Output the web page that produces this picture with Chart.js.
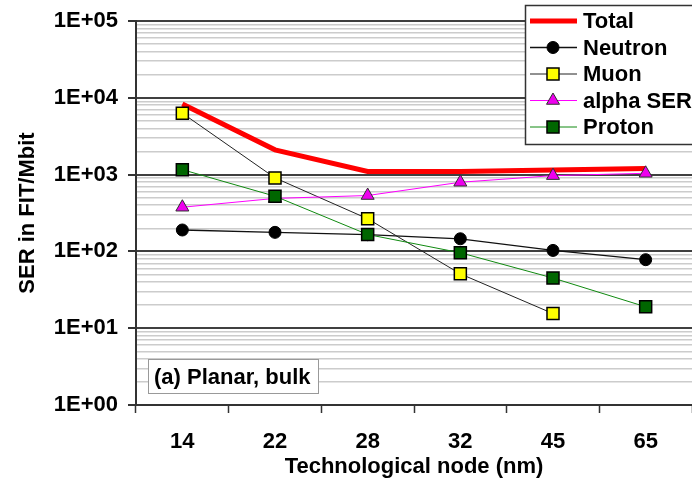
<!DOCTYPE html>
<html>
<head>
<meta charset="utf-8">
<script src="https://cdn.jsdelivr.net/npm/chart.js@4/dist/chart.umd.min.js"></script>
<style>
  html, body { margin: 0; padding: 0; background: #fff; overflow: hidden; }
</style>
</head>
<body>
<canvas id="ser" width="692" height="480"></canvas>
<script>
const nodes = ["14", "22", "28", "32", "45", "65"];
const total = [8300, 2100, 1100, 1100, 1150, 1200];
const neutron = [190, 177, 165, 146, 103, 78];
const muon = [6300, 906, 266, 51, 15.5, null];
const alpha = [376, 490, 534, 795, 970, 1040];
const proton = [1160, 523, 166, 96, 45, 19];

const yDecades = [1, 10, 100, 1000, 10000, 100000];
const yLabels = ["1E+00", "1E+01", "1E+02", "1E+03", "1E+04", "1E+05"];

// minor grid lines 2..9 in each decade
const yGrid = [];
yDecades.forEach((d, i) => {
  yGrid.push(d);
  if (i < yDecades.length - 1) {
    for (let k = 2; k <= 9; k++) yGrid.push(d * k);
  }
});

const isMajor = v => yDecades.includes(v);

Chart.defaults.font.family = "'Liberation Sans', Arial, sans-serif";
Chart.defaults.font.size = 22;
Chart.defaults.font.weight = "bold";
Chart.defaults.color = "#000";

const FONT = "bold 22px 'Liberation Sans', Arial, sans-serif";

const boxesPlugin = {
  id: "boxes",
  afterDraw(chart) {
    const ctx = chart.ctx;
    ctx.save();

    // note box
    ctx.fillStyle = "#fff";
    ctx.fillRect(148, 359, 171, 35);
    ctx.strokeStyle = "#999";
    ctx.lineWidth = 1;
    ctx.strokeRect(148.5, 359.5, 170, 34);
    ctx.fillStyle = "#000";
    ctx.font = FONT;
    ctx.textBaseline = "middle";
    ctx.textAlign = "left";
    ctx.fillText("(a) Planar, bulk", 154, 378);

    // legend box
    ctx.fillStyle = "#fff";
    ctx.fillRect(525, 5, 180, 140);
    ctx.strokeStyle = "#333";
    ctx.lineWidth = 1.5;
    ctx.strokeRect(525.5, 5.5, 180, 139);

    chart.data.datasets.forEach((ds, i) => {
      const y = 21 + i * 26.5;
      ctx.strokeStyle = ds.borderColor;
      ctx.lineWidth = ds.borderWidth;
      ctx.beginPath();
      ctx.moveTo(530, y);
      ctx.lineTo(577, y);
      ctx.stroke();
      if (ds.pointRadius > 0) {
        ctx.fillStyle = ds.pointBackgroundColor;
        ctx.strokeStyle = ds.pointBorderColor;
        ctx.lineWidth = ds.pointBorderWidth;
        Chart.helpers.drawPoint(ctx, { pointStyle: ds.pointStyle, radius: ds.pointRadius, borderWidth: ds.pointBorderWidth }, 553, y);
      }
      ctx.fillStyle = "#000";
      ctx.font = FONT;
      ctx.textBaseline = "middle";
      ctx.fillText(ds.label, 583, y + 1);
    });
    ctx.restore();
  }
};

new Chart(document.getElementById("ser"), {
  type: "line",
  data: {
    labels: nodes,
    datasets: [
      {
        label: "Total", data: total, order: 5,
        borderColor: "#ff0000", borderWidth: 5, pointRadius: 0,
        pointBackgroundColor: "#ff0000", pointBorderColor: "#ff0000", pointBorderWidth: 0
      },
      {
        label: "Neutron", data: neutron, order: 4,
        borderColor: "#111", borderWidth: 1.3, pointStyle: "circle", pointRadius: 6,
        pointBackgroundColor: "#000", pointBorderColor: "#000", pointBorderWidth: 1
      },
      {
        label: "Muon", data: muon, order: 3,
        borderColor: "#222", borderWidth: 1, pointStyle: "rect", pointRadius: 8.5,
        pointBackgroundColor: "#ffff00", pointBorderColor: "#000", pointBorderWidth: 1.5
      },
      {
        label: "alpha SER", data: alpha, order: 2,
        borderColor: "#ff00ff", borderWidth: 1, pointStyle: "triangle", pointRadius: 7.5,
        pointBackgroundColor: "#ee00ee", pointBorderColor: "#303030", pointBorderWidth: 1
      },
      {
        label: "Proton", data: proton, order: 1,
        borderColor: "#108a10", borderWidth: 1, pointStyle: "rect", pointRadius: 8.5,
        pointBackgroundColor: "#006600", pointBorderColor: "#000", pointBorderWidth: 1.5
      }
    ]
  },
  options: {
    responsive: false,
    animation: false,
    layout: { autoPadding: false, padding: { top: 21, left: 10, right: 0, bottom: 0 } },
    plugins: {
      legend: { display: false },
      tooltip: { enabled: false }
    },
    scales: {
      x: {
        offset: true,
        grid: {
          offset: true, drawOnChartArea: false, drawTicks: true,
          tickLength: 8, tickColor: "#333", tickWidth: 1.5
        },
        border: { color: "#333", width: 2 },
        ticks: { padding: 16, color: "#000" },
        title: { display: true, text: "Technological node (nm)", padding: { top: 0, bottom: 0 } },
        afterFit: s => { s.height = 75; s.paddingLeft = 0; s.paddingRight = 0; }
      },
      y: {
        type: "logarithmic",
        min: 1, max: 100000,
        afterBuildTicks: s => { s.ticks = yGrid.map(v => ({ value: v, major: isMajor(v) })); },
        ticks: {
          autoSkip: false, padding: 10, color: "#000",
          callback: v => isMajor(v) ? yLabels[yDecades.indexOf(v)] : ""
        },
        grid: {
          color: c => isMajor(c.tick.value) ? "#404040" : "#cccccc",
          lineWidth: c => isMajor(c.tick.value) ? 2 : 1.5,
          tickColor: c => isMajor(c.tick.value) ? "#333" : "rgba(0,0,0,0)",
          tickLength: 8
        },
        border: { color: "#333", width: 2 },
        title: { display: true, text: "SER in FIT/Mbit", padding: { top: 5, bottom: 4 } },
        afterFit: s => { s.width = 126; s.paddingTop = 0; s.paddingBottom = 0; }
      }
    }
  },
  plugins: [boxesPlugin]
});
</script>
</body>
</html>
